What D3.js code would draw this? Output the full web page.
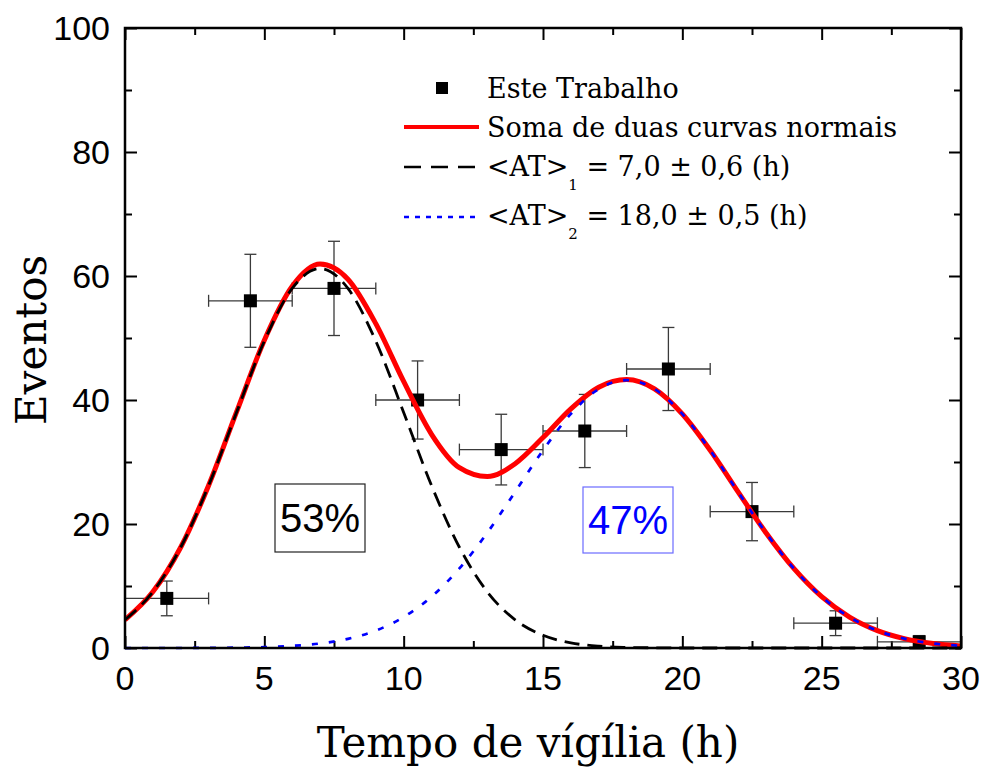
<!DOCTYPE html>
<html>
<head>
<meta charset="utf-8">
<script src="https://cdn.jsdelivr.net/npm/d3@7"></script>
<style>
  html, body { margin: 0; padding: 0; background: #fff; }
  svg { display: block; }
</style>
</head>
<body>
<svg id="chart" width="983" height="769"></svg>
<script>
// ---------- data ----------
const pointX   = [1.5, 4.5, 7.5, 10.5, 13.5, 16.5, 19.5, 22.5, 25.5, 28.5];
const pointY   = [8, 56, 58, 40, 32, 35, 45, 22, 4, 1];
const pointXErr = [1.5, 1.5, 1.5, 1.5, 1.5, 1.5, 1.5, 1.5, 1.5, 1.5];
const pointYErr = [2.8, 7.5, 7.6, 6.3, 5.7, 5.9, 6.7, 4.7, 2.0, 1.0];

const curveX = [0,1,2,3,4,5,6,7,8,9,10,11,12,13,14,15,16,17,18,19,20,21,22,23,24,25,26,27,28,29,30];
const curveSum = [4.55,9.06,16.25,26.22,38.03,49.64,58.34,61.93,59.48,52.31,42.99,34.47,29.08,27.65,29.73,33.94,38.58,42.07,43.3,41.8,37.75,31.89,25.18,18.59,12.83,8.27,4.99,2.81,1.48,0.73,0.34];
const curveG1 = [4.55,9.06,16.25,26.2,37.97,49.5,58.0,61.2,58.0,49.5,38.0,26.2,16.25,9.06,4.55,2.05,0.83,0.30,0.10,0.03,0,0,0,0,0,0,0,0,0,0,0];
const curveG2 = [0,0,0,0.02,0.06,0.14,0.34,0.73,1.48,2.81,4.99,8.27,12.83,18.59,25.18,31.89,37.75,41.77,43.2,41.77,37.75,31.89,25.18,18.59,12.83,8.27,4.99,2.81,1.48,0.73,0.34];

const xMajorTicks = [0, 5, 10, 15, 20, 25, 30];
const xMinorTicks = [2.5, 7.5, 12.5, 17.5, 22.5, 27.5];
const yMajorTicks = [0, 20, 40, 60, 80, 100];
const yMinorTicks = [10, 30, 50, 70, 90];

const legendLabels = ["Este Trabalho", "Soma de duas curvas normais"];
const shareLabels = ["53%", "47%"];
const xTitle = "Tempo de vígília (h)";
const yTitle = "Eventos";

// ---------- layout ----------
const svg = d3.select("#chart");
const L = 125, R = 961, T = 28, B = 648;
const x = d3.scaleLinear().domain([0, 30]).range([L, R]);
const y = d3.scaleLinear().domain([0, 100]).range([B, T]);

const sansFont = "'Liberation Sans', Arial, sans-serif";
const serifFont = "'DejaVu Serif', Georgia, serif";

// ---------- axes (ticks inward on all four sides) ----------
const majorLen = 12, minorLen = 7;
const axG = svg.append("g");

function drawAxis(axisFn, scale, ticks, len, transform) {
  const g = axG.append("g").attr("transform", transform)
    .call(axisFn(scale).tickValues(ticks).tickSize(len).tickFormat(""));
  g.select(".domain").remove();
  g.selectAll(".tick line").attr("stroke", "#000").attr("stroke-width", 2);
  return g;
}
drawAxis(d3.axisTop, x, xMajorTicks, majorLen, `translate(0,${B})`);
drawAxis(d3.axisTop, x, xMinorTicks, minorLen, `translate(0,${B})`);
drawAxis(d3.axisBottom, x, xMajorTicks, majorLen, `translate(0,${T})`);
drawAxis(d3.axisBottom, x, xMinorTicks, minorLen, `translate(0,${T})`);
drawAxis(d3.axisRight, y, yMajorTicks, majorLen, `translate(${L},0)`);
drawAxis(d3.axisRight, y, yMinorTicks, minorLen, `translate(${L},0)`);
drawAxis(d3.axisLeft, y, yMajorTicks, majorLen, `translate(${R},0)`);
drawAxis(d3.axisLeft, y, yMinorTicks, minorLen, `translate(${R},0)`);

// tick labels
axG.append("g").selectAll("text").data(xMajorTicks).join("text")
  .attr("x", d => x(d)).attr("y", 690)
  .attr("text-anchor", "middle")
  .attr("font-family", sansFont).attr("font-size", 34)
  .text(d => d);
axG.append("g").selectAll("text").data(yMajorTicks).join("text")
  .attr("x", 110).attr("y", d => y(d) + 12)
  .attr("text-anchor", "end")
  .attr("font-family", sansFont).attr("font-size", 34)
  .text(d => d);

// axis titles
svg.append("text")
  .attr("x", 528).attr("y", 757)
  .attr("text-anchor", "middle")
  .attr("font-family", serifFont).attr("font-size", 42)
  .text(xTitle);
svg.append("text")
  .attr("transform", `translate(46,340) rotate(-90)`)
  .attr("text-anchor", "middle")
  .attr("font-family", serifFont).attr("font-size", 42)
  .text(yTitle);

// ---------- percentage boxes ----------
const boxData = [
  {label: shareLabels[0], x0: 275, y0: 484, w: 90, h: 68, text: "#000", border: "#222"},
  {label: shareLabels[1], x0: 583, y0: 487, w: 90, h: 66, text: "#0000ff", border: "#6b6bff"}
];
boxData.forEach(b => {
  svg.append("rect").attr("x", b.x0).attr("y", b.y0).attr("width", b.w).attr("height", b.h)
    .attr("fill", "#fff").attr("stroke", b.border).attr("stroke-width", 1.2);
  svg.append("text").attr("x", b.x0 + b.w / 2).attr("y", b.y0 + b.h / 2 + 14)
    .attr("text-anchor", "middle")
    .attr("font-family", sansFont).attr("font-size", 40)
    .attr("fill", b.text).text(b.label);
});

// ---------- data points with error bars ----------
const pts = pointX.map((v, i) => ({x: v, y: pointY[i], ex: pointXErr[i], ey: pointYErr[i]}));
const capW = 6;
const eg = svg.append("g").attr("stroke", "#3a3a3a").attr("stroke-width", 1.3).attr("fill", "none");
pts.forEach(p => {
  const cx = x(p.x), cy = y(p.y);
  eg.append("line").attr("x1", x(p.x - p.ex)).attr("x2", x(p.x + p.ex)).attr("y1", cy).attr("y2", cy);
  eg.append("line").attr("x1", x(p.x - p.ex)).attr("x2", x(p.x - p.ex)).attr("y1", cy - capW).attr("y2", cy + capW);
  eg.append("line").attr("x1", x(p.x + p.ex)).attr("x2", x(p.x + p.ex)).attr("y1", cy - capW).attr("y2", cy + capW);
  eg.append("line").attr("x1", cx).attr("x2", cx).attr("y1", y(p.y - p.ey)).attr("y2", y(p.y + p.ey));
  eg.append("line").attr("x1", cx - capW).attr("x2", cx + capW).attr("y1", y(p.y - p.ey)).attr("y2", y(p.y - p.ey));
  eg.append("line").attr("x1", cx - capW).attr("x2", cx + capW).attr("y1", y(p.y + p.ey)).attr("y2", y(p.y + p.ey));
});
const ms = 13;
svg.append("g").selectAll("rect").data(pts).join("rect")
  .attr("x", d => x(d.x) - ms / 2).attr("y", d => y(d.y) - ms / 2)
  .attr("width", ms).attr("height", ms).attr("fill", "#000");

// ---------- curves ----------
svg.append("clipPath").attr("id", "plotclip")
  .append("rect").attr("x", L).attr("y", T).attr("width", R - L).attr("height", B - T + 2);
const lineGen = arr => d3.line().x((d, i) => x(curveX[i])).y(d => y(d)).curve(d3.curveMonotoneX)(arr);
const cg = svg.append("g").attr("clip-path", "url(#plotclip)");
cg.append("path").attr("d", lineGen(curveSum)).attr("fill", "none")
  .attr("stroke", "#ff0000").attr("stroke-width", 5);
cg.append("path").attr("d", lineGen(curveG1)).attr("fill", "none")
  .attr("stroke", "#000").attr("stroke-width", 2.8).attr("stroke-dasharray", "15,8");
cg.append("path").attr("d", lineGen(curveG2)).attr("fill", "none")
  .attr("stroke", "#0000ff").attr("stroke-width", 2.7).attr("stroke-dasharray", "6,11");

// ---------- frame ----------
svg.append("rect").attr("x", L).attr("y", T).attr("width", R - L).attr("height", B - T)
  .attr("fill", "none").attr("stroke", "#000").attr("stroke-width", 2.5);

// ---------- legend ----------
const lg = svg.append("g");
const legFont = 27;
lg.append("rect").attr("x", 436).attr("y", 82).attr("width", 12).attr("height", 12).attr("fill", "#000");
lg.append("text").attr("x", 487).attr("y", 98).attr("font-family", serifFont).attr("font-size", legFont)
  .text(legendLabels[0]);
lg.append("line").attr("x1", 404).attr("x2", 479).attr("y1", 127).attr("y2", 127)
  .attr("stroke", "#ff0000").attr("stroke-width", 4);
lg.append("text").attr("x", 487).attr("y", 137).attr("font-family", serifFont).attr("font-size", legFont)
  .text(legendLabels[1]);
lg.append("line").attr("x1", 404).attr("x2", 479).attr("y1", 167).attr("y2", 167)
  .attr("stroke", "#000").attr("stroke-width", 2.7).attr("stroke-dasharray", "17,10");
const t3 = lg.append("text").attr("x", 487).attr("y", 176).attr("font-family", serifFont).attr("font-size", legFont);
t3.append("tspan").text("<AT>");
t3.append("tspan").attr("dy", 14).attr("font-size", 15).text("1");
t3.append("tspan").attr("dy", -14).text(" = 7,0 ± 0,6 (h)");
lg.append("line").attr("x1", 404).attr("x2", 479).attr("y1", 217).attr("y2", 217)
  .attr("stroke", "#0000ff").attr("stroke-width", 2.6).attr("stroke-dasharray", "5,6");
const t4 = lg.append("text").attr("x", 487).attr("y", 225).attr("font-family", serifFont).attr("font-size", legFont);
t4.append("tspan").text("<AT>");
t4.append("tspan").attr("dy", 14).attr("font-size", 15).text("2");
t4.append("tspan").attr("dy", -14).text(" = 18,0 ± 0,5 (h)");
</script>
</body>
</html>
